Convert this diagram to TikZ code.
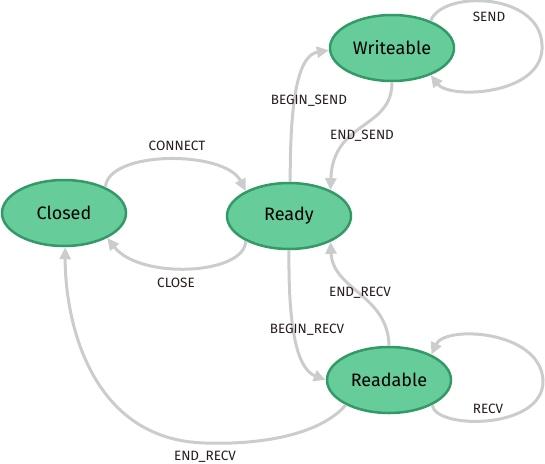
\documentclass[tikz,border=0pt]{standalone}
\usepackage{fontspec}
\setmainfont{Fira Sans}
\usetikzlibrary{shapes.geometric,arrows.meta}
\definecolor{nodefill}{RGB}{102,204,153}
\definecolor{nodeline}{RGB}{51,153,102}
\definecolor{edgecol}{RGB}{204,204,204}
\definecolor{labcol}{RGB}{40,28,28}
\tikzset{
  state/.style={ellipse, draw=nodeline, fill=nodefill, line width=2.5pt, minimum width=124pt, minimum height=66pt, inner sep=0pt, font=\fontsize{18}{18}\selectfont},
  edge/.style={draw=edgecol, line width=3pt, -{Triangle[length=12pt,width=11pt]}},
  lab/.style={font=\fontsize{13.5}{13.5}\selectfont, text=labcol, inner sep=1pt}
}
\begin{document}
\begin{tikzpicture}[x=1pt,y=-1pt]
\useasboundingbox (0,0) rectangle (545,463);
\node[state] (closed) at (64,213) {Closed};
\node[state] (ready) at (289,216) {Ready};
\node[state] (write) at (392,48) {Writeable};
\node[state] (read) at (389,380) {Readable};

\draw[edge] (closed.32) .. controls (108,150) and (225,150) .. (ready.150);
\draw[edge] (ready.210) .. controls (245,275) and (140,280) .. (closed.-30);
\draw[edge] (ready.88) .. controls (290,90) and (300,55) .. (write.182);
\draw[edge] (write.south) .. controls (392,130) and (333,120) .. (ready.32);
\draw[edge] (write.35) .. controls (442,-10) and (540,-8) .. (542,45) .. controls (545,95) and (450,100) .. (write.-35);
\draw[edge] (read.-30) .. controls (435,430) and (545,430) .. (543,380) .. controls (540,330) and (445,325) .. (read.31);
\draw[edge] (ready.south) .. controls (288,340) and (300,370) .. (read.180);
\draw[edge] (read.north) .. controls (388,295) and (333,290) .. (ready.-32);
\draw[edge] (read.210) .. controls (320,435) and (260,445) .. (205,443) .. controls (90,440) and (65,320) .. (closed.-88);

\node[lab] (l1) at (177,146) {CONNECT};
\node[lab] (l2) at (176,283) {CLOSE};
\node[lab] (l3) at (309,101) {BEGIN\_SEND};
\node[lab] (l4) at (362,136) {END\_SEND};
\node[lab] (l5) at (489,17) {SEND};
\node[lab] (l6) at (307,330) {BEGIN\_RECV};
\node[lab] (l7) at (360,293) {END\_RECV};
\node[lab] (l8) at (488,409) {RECV};
\node[lab] (l9) at (205,457) {END\_RECV};
\end{tikzpicture}
\end{document}
